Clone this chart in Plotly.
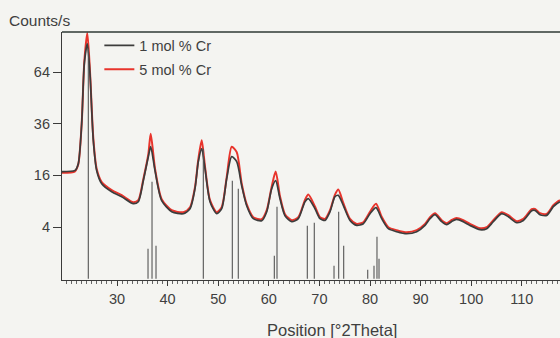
import numpy as np
import plotly.graph_objects as go

theta = [19.13, 21.70, 22.35, 23.02, 23.54, 24.13, 24.66, 25.32, 25.99, 26.98,
         28.95, 30.93, 33.22, 34.21, 35.20, 36.19, 36.66, 37.51, 38.83, 40.81,
         43.10, 44.43, 45.41, 46.07, 46.74, 47.39, 48.38, 49.70, 50.69, 51.68,
         52.67, 53.66, 54.64, 55.63, 56.94, 58.60, 59.59, 60.57, 61.36, 62.21,
         63.20, 64.53, 65.83, 67.15, 67.81, 69.13, 70.12, 71.11, 72.10, 73.08,
         73.74, 74.72, 76.05, 77.37, 78.68, 80.00, 81.19, 82.31, 83.62, 85.28,
         87.25, 89.23, 90.87, 91.86, 92.85, 94.17, 95.16, 96.15, 97.13, 98.44,
         99.76, 101.74, 103.06, 104.37, 106.03, 107.33, 108.99, 110.30, 111.96, 112.61,
         113.60, 114.92, 116.23, 116.90, 117.55]

# Counts/s, 1 mol % Cr
cr1 = [17.16, 17.58, 19.82, 36.01, 69.29, 82.77, 62.99, 28.54, 17.48, 13.53,
       11.34, 10.08, 8.43, 8.89, 14.39, 22.31, 26.11, 17.48, 9.12, 6.73,
       6.33, 7.34, 12.14, 20.52, 25.33, 18.14, 8.89, 6.33, 7.34, 14.99,
       22.31, 20.52, 12.96, 7.99, 5.40, 5.04, 6.73, 12.14, 14.39, 9.59,
       5.95, 4.87, 5.40, 8.89, 9.59, 7.34, 5.40, 5.09, 6.73, 10.08,
       10.40, 8.05, 5.09, 4.26, 4.53, 6.33, 7.56, 5.40, 3.75, 3.31,
       3.03, 3.31, 4.26, 5.40, 6.14, 4.87, 4.37, 4.92, 5.27, 4.87,
       4.26, 3.60, 3.75, 4.87, 6.33, 5.76, 4.70, 5.09, 6.93, 6.99,
       6.14, 6.01, 7.77, 8.43, 8.89]

# Counts/s, 5 mol % Cr
cr5 = [16.84, 17.26, 19.60, 36.00, 70.50, 90.50, 64.50, 29.50, 18.00, 13.96,
       11.74, 10.45, 8.77, 9.24, 14.84, 23.20, 31.50, 18.20, 9.47, 7.03,
       6.63, 7.66, 12.55, 21.30, 28.70, 18.90, 9.24, 6.63, 7.66, 15.44,
       26.10, 24.00, 13.60, 8.32, 5.67, 5.30, 7.03, 12.70, 17.20, 10.20,
       6.24, 5.13, 5.67, 9.30, 10.60, 7.80, 5.67, 5.36, 7.03, 10.60,
       11.95, 8.60, 5.36, 4.50, 4.78, 6.70, 8.43, 5.75, 3.98, 3.53,
       3.24, 3.53, 4.50, 5.67, 6.43, 5.13, 4.62, 5.18, 5.54, 5.13,
       4.50, 3.82, 3.98, 5.13, 6.63, 6.04, 4.96, 5.36, 7.24, 7.30,
       6.43, 6.30, 8.09, 8.77, 9.24]

# Reference pattern sticks
ref_pos = [24.33, 36.13, 36.92, 37.71, 47.06, 52.79, 53.97, 61.09, 61.62, 67.61,
           68.99, 72.89, 73.81, 74.80, 79.55, 80.79, 81.38, 81.78]
ref_int = [79.3, 1.35, 14.1, 1.63, 25.3, 14.4, 12.1, 0.79, 7.77, 4.21,
           4.70, 0.25, 6.73, 1.63, 0.12, 0.25, 2.64, 0.60]

y_ticks = [4, 16, 36, 64]
x_ticks = [30, 40, 50, 60, 70, 80, 90, 100, 110]

BG = "#f4f4f1"
AX = "#3a3a3a"
TXT = "#3f3f3f"

stick_x, stick_y = [], []
for p, h in zip(ref_pos, ref_int):
    stick_x += [p, p, None]
    stick_y += [0, float(np.sqrt(h)), None]

fig = go.Figure()
fig.add_trace(go.Scatter(x=theta, y=np.sqrt(cr5), mode="lines", name="5 mol % Cr",
                         line=dict(color="#e8342c", width=2.0, shape="spline", smoothing=0.7),
                         legendgroup="b", legendrank=2))
fig.add_trace(go.Scatter(x=theta, y=np.sqrt(cr1), mode="lines", name="1 mol % Cr",
                         line=dict(color="#3c3c3c", width=1.7, shape="spline", smoothing=0.7),
                         legendgroup="a", legendrank=1))
fig.add_trace(go.Scatter(x=stick_x, y=stick_y, mode="lines", showlegend=False,
                         line=dict(color="#555555", width=1.1)))

fig.update_layout(
    width=560, height=338,
    margin=dict(l=62, r=0, t=32, b=58),
    paper_bgcolor=BG, plot_bgcolor=BG,
    font=dict(family="Liberation Sans, Arial, sans-serif", size=14, color=TXT),
    showlegend=True,
    legend=dict(x=0.075, y=1.01, xanchor="left", yanchor="top",
                bgcolor="rgba(0,0,0,0)", font=dict(size=14.5, color=TXT),
                tracegroupgap=2, itemwidth=30),
    xaxis=dict(range=[19.13, 117.55], tickvals=x_ticks, ticks="outside", ticklen=5,
               tickcolor=AX, showline=True, linecolor=AX, linewidth=1.2,
               showgrid=False, zeroline=False,
               minor=dict(dtick=1, ticks="outside", ticklen=3, tickcolor="#666666"),
               tickfont=dict(size=14.5, color=TXT)),
    yaxis=dict(range=[-0.05, 9.55], tickvals=list(np.sqrt(y_ticks)),
               ticktext=[str(v) for v in y_ticks], ticks="outside", ticklen=8,
               tickcolor=AX, showline=True, linecolor=AX, linewidth=1.2,
               showgrid=False, zeroline=False, tickfont=dict(size=14.5, color=TXT)),
    shapes=[dict(type="line", xref="paper", yref="paper", x0=0, x1=1, y0=1, y1=1,
                 line=dict(color="#2f3a34", width=1.3))],
    annotations=[
        dict(text="Counts/s", xref="paper", yref="paper", x=-0.110, y=1.048,
             xanchor="left", yanchor="middle", showarrow=False,
             font=dict(size=15.5, color=TXT)),
        dict(text="Position [°2Theta]", xref="paper", yref="paper", x=0.542, y=-0.2,
             xanchor="center", yanchor="middle", showarrow=False,
             font=dict(size=16.5, color=TXT)),
    ],
)

fig.write_html("out.html", config={"displayModeBar": False},
               post_script="document.body.style.margin='0';"
                           "document.body.style.background='%s';" % BG)
